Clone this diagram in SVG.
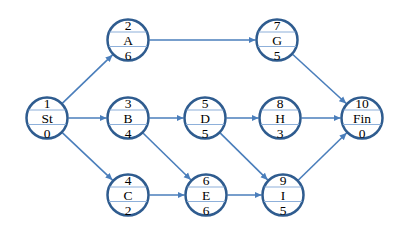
<svg xmlns="http://www.w3.org/2000/svg" width="410" height="235" viewBox="0 0 410 235">
<defs>
<marker id="ah" markerWidth="8" markerHeight="8" refX="7" refY="4" orient="auto" markerUnits="userSpaceOnUse">
<path d="M0,0.8 L7,4 L0,7.2 Z" fill="#4A7EBB"/>
</marker>
<style>
.c{fill:#fff;stroke:#2F5C8F;stroke-width:2.5}
.s{stroke:#8EB0DA;stroke-width:1.2}
.t{font-family:"Liberation Serif","Times New Roman",serif;font-size:13.5px;fill:#000;text-anchor:middle}
.e{stroke:#4A7EBB;stroke-width:1.6;fill:none;marker-end:url(#ah)}
</style>
<g id="nd">
<circle class="c" cx="0" cy="0" r="20.5"/>
<line class="s" x1="-18.5" y1="-8" x2="18.5" y2="-8"/>
<line class="s" x1="-19" y1="6.5" x2="19" y2="6.5"/>
</g>
</defs>
<rect width="410" height="235" fill="#fff"/>
<g id="connectors">
<line class="e" x1="62.5" y1="103.1" x2="112.5" y2="54.9"/>
<line class="e" x1="68.5" y1="118" x2="106.5" y2="118"/>
<line class="e" x1="62.5" y1="132.9" x2="112.5" y2="180.1"/>
<line class="e" x1="149.5" y1="40" x2="255.5" y2="40"/>
<line class="e" x1="149.5" y1="118" x2="183.5" y2="118"/>
<line class="e" x1="143.2" y1="133.2" x2="190.8" y2="179.8"/>
<line class="e" x1="149.5" y1="195" x2="184.5" y2="195"/>
<line class="e" x1="226.5" y1="118" x2="258.5" y2="118"/>
<line class="e" x1="220.3" y1="133.1" x2="267.7" y2="179.9"/>
<line class="e" x1="227.5" y1="195" x2="261.5" y2="195"/>
<line class="e" x1="292.8" y1="54.5" x2="346.2" y2="103.5"/>
<line class="e" x1="301.5" y1="118" x2="340.5" y2="118"/>
<line class="e" x1="298.4" y1="180" x2="346.6" y2="133"/>
</g>
<g id="St" transform="translate(47,118)"><use href="#nd"/><text class="t" y="-10.5">1</text><text class="t" y="4.5">St</text><text class="t" y="19.5">0</text></g>
<g id="A" transform="translate(128,40)"><use href="#nd"/><text class="t" y="-10.5">2</text><text class="t" y="4.5">A</text><text class="t" y="19.5">6</text></g>
<g id="B" transform="translate(128,118)"><use href="#nd"/><text class="t" y="-10.5">3</text><text class="t" y="4.5">B</text><text class="t" y="19.5">4</text></g>
<g id="C" transform="translate(128,195)"><use href="#nd"/><text class="t" y="-10.5">4</text><text class="t" y="4.5">C</text><text class="t" y="19.5">2</text></g>
<g id="D" transform="translate(205,118)"><use href="#nd"/><text class="t" y="-10.5">5</text><text class="t" y="4.5">D</text><text class="t" y="19.5">5</text></g>
<g id="E" transform="translate(206,195)"><use href="#nd"/><text class="t" y="-10.5">6</text><text class="t" y="4.5">E</text><text class="t" y="19.5">6</text></g>
<g id="G" transform="translate(277,40)"><use href="#nd"/><text class="t" y="-10.5">7</text><text class="t" y="4.5">G</text><text class="t" y="19.5">5</text></g>
<g id="H" transform="translate(280,118)"><use href="#nd"/><text class="t" y="-10.5">8</text><text class="t" y="4.5">H</text><text class="t" y="19.5">3</text></g>
<g id="I" transform="translate(283,195)"><use href="#nd"/><text class="t" y="-10.5">9</text><text class="t" y="4.5">I</text><text class="t" y="19.5">5</text></g>
<g id="Fin" transform="translate(362,118)"><use href="#nd"/><text class="t" y="-10.5">10</text><text class="t" y="4.5">Fin</text><text class="t" y="19.5">0</text></g>
</svg>
